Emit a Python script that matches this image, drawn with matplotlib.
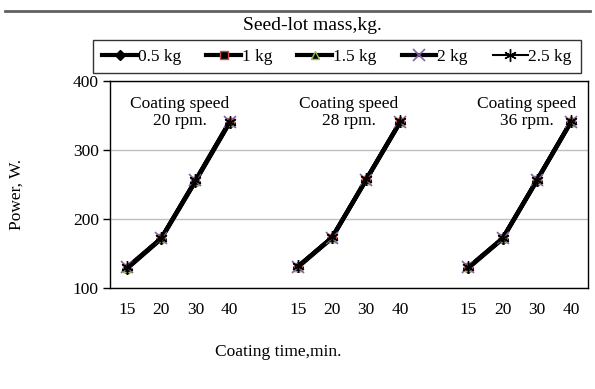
import numpy as np
import matplotlib
matplotlib.use("Agg")
import matplotlib.pyplot as plt

plt.rcParams['font.family'] = ['Liberation Serif', 'DejaVu Serif']

# category axis: three speed groups of four coating times, blank slot between groups
tick_labels = ['15', '20', '30', '40', '', '15', '20', '30', '40', '', '15', '20', '30', '40']
speeds = ['20 rpm.', '28 rpm.', '36 rpm.']
masses = ['0.5 kg', '1 kg', '1.5 kg', '2 kg', '2.5 kg']

nan = np.nan
power_05 = [128, 171, 254, 339, nan, 130, 172, 256, 340, nan, 129, 171, 255, 340]
power_10 = [129, 172, 255, 340, nan, 131, 173, 257, 341, nan, 130, 172, 256, 341]
power_15 = [129, 172, 255, 340, nan, 131, 173, 257, 341, nan, 130, 172, 256, 341]
power_20 = [130, 172, 256, 341, nan, 131, 173, 257, 341, nan, 130, 172, 256, 341]
power_25 = [130, 173, 256, 341, nan, 132, 174, 258, 342, nan, 131, 173, 257, 342]
series = [power_05, power_10, power_15, power_20, power_25]

styles = [
    dict(marker='D', ms=5, mfc='black', mec='black', lw=3),
    dict(marker='s', ms=6, mfc='black', mec='#c0504d', lw=3),
    dict(marker='^', ms=6, mfc='black', mec='#9bbb59', lw=3),
    dict(marker='x', ms=8, mfc='none', mec='#8064a2', mew=1.2, lw=3),
    dict(marker=(6, 2, 0), ms=9, mfc='none', mec='black', mew=1.0, lw=1.5),
]

fig = plt.figure(figsize=(5.95, 3.89), dpi=100)
ax = fig.add_axes([110 / 595, 1 - 288 / 389, 478 / 595, 207 / 389])

x = np.arange(len(tick_labels))
for vals, name, st in zip(series, masses, styles):
    ax.plot(x, vals, color='black', label=name, **st)

ax.set_xlim(-0.5, len(tick_labels) - 0.5)
ax.set_ylim(100, 400)
ax.set_yticks([100, 200, 300, 400])
ax.set_xticks(x)
ax.set_xticklabels(tick_labels)
ax.tick_params(axis='x', length=0, pad=10, labelsize=12.5)
ax.tick_params(axis='y', length=5, width=1, direction='out', labelsize=12.5, pad=3)
ax.grid(axis='y', color='#bfbfbf', lw=1)
ax.set_axisbelow(True)
for sp in ax.spines.values():
    sp.set_linewidth(1)
    sp.set_color('black')

# speed notes over each group
note_x = [1.55, 6.5, 11.7]
for nx, sp in zip(note_x, speeds):
    ax.text(nx, 354, 'Coating speed\n' + sp, ha='center', va='center',
            fontsize=12.5, linespacing=1.05)

ax.set_ylabel('Power, W.', fontsize=12.5)
ax.yaxis.set_label_coords(-0.178, 0.45)
ax.set_xlabel('Coating time,min.', fontsize=12.5)
ax.xaxis.set_label_coords(0.351, -0.309)
ax.xaxis.label.set_va('center')

fig.text(312 / 595, 1 - 26 / 389, 'Seed-lot mass,kg.', ha='center', va='center', fontsize=14)
leg = fig.legend(loc='center', bbox_to_anchor=(337 / 595, 1 - 56.5 / 389), ncol=5,
                 fontsize=12.5, frameon=True, fancybox=False, edgecolor='black',
                 handlelength=2.0, handletextpad=0.05, columnspacing=1.45,
                 borderpad=0.5, borderaxespad=0)
leg.get_frame().set_linewidth(1)

# page rule above the figure
fig.add_artist(plt.Line2D([5 / 595, 590 / 595], [1 - 11 / 389, 1 - 11 / 389],
                          color='#606060', lw=2))

fig.savefig('out.png', dpi=100)
